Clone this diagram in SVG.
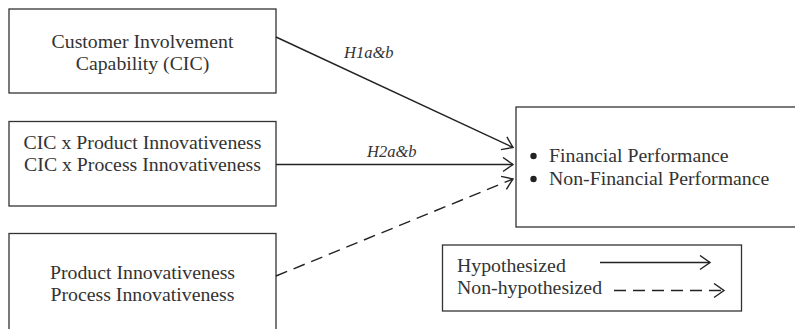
<svg xmlns="http://www.w3.org/2000/svg" width="795" height="329" viewBox="0 0 795 329">
<style>
.box{fill:#fff;stroke:#333;stroke-width:1.3}
.t{font-family:"Liberation Serif","Times New Roman",serif;font-size:19.8px;fill:#333}
.c{text-anchor:middle}
.lab{font-family:"Liberation Serif","Times New Roman",serif;font-size:16.5px;font-style:italic;fill:#333}
.ln{stroke:#222;stroke-width:1.4;fill:none}
.dash{stroke-dasharray:12 7}
</style>
<defs>
<marker id="arr" markerUnits="userSpaceOnUse" markerWidth="14" markerHeight="16" refX="11" refY="8" orient="auto" viewBox="0 0 14 16">
<path d="M1,1 L11,8 L1,15" fill="none" stroke="#222" stroke-width="1.4"/>
</marker>
</defs>
<rect width="795" height="329" fill="#fff"/>
<g id="cic">
<rect class="box" x="9" y="9" width="267" height="84"/>
<text class="t c" x="142.5" y="47.5">Customer Involvement</text>
<text class="t c" x="142.5" y="70">Capability (CIC)</text>
</g>
<g id="interaction">
<rect class="box" x="9" y="121.5" width="267" height="84.5"/>
<text class="t c" x="142.5" y="148.5">CIC x Product Innovativeness</text>
<text class="t c" x="142.5" y="170.5">CIC x Process Innovativeness</text>
</g>
<g id="innov">
<rect class="box" x="9" y="233.5" width="267" height="110"/>
<text class="t c" x="142.5" y="278.5">Product Innovativeness</text>
<text class="t c" x="142.5" y="300.5">Process Innovativeness</text>
</g>
<g id="performance">
<rect class="box" x="516" y="107" width="290" height="120"/>
<circle cx="533.5" cy="156" r="3.2" fill="#222"/>
<circle cx="533.5" cy="179" r="3.2" fill="#222"/>
<text class="t" x="549" y="162">Financial Performance</text>
<text class="t" x="549" y="185">Non-Financial Performance</text>
</g>
<g id="legend">
<rect class="box" x="442.5" y="245" width="299" height="66"/>
<text class="t" x="457" y="272">Hypothesized</text>
<text class="t" x="457" y="294">Non-hypothesized</text>
<line class="ln" x1="600" y1="262.5" x2="710" y2="262.5" marker-end="url(#arr)"/>
<line class="ln dash" x1="614" y1="290.5" x2="724" y2="290.5" stroke-dasharray="9 5" marker-end="url(#arr)"/>
</g>
<g id="connectors">
<line class="ln" x1="276" y1="37" x2="513" y2="147.5" marker-end="url(#arr)"/>
<line class="ln" x1="276" y1="164.5" x2="513" y2="164.5" marker-end="url(#arr)"/>
<line class="ln dash" x1="276" y1="276" x2="513" y2="179" marker-end="url(#arr)"/>
<text class="lab" x="344" y="58">H1a&amp;b</text>
<text class="lab" x="367" y="157">H2a&amp;b</text>
</g>
</svg>
